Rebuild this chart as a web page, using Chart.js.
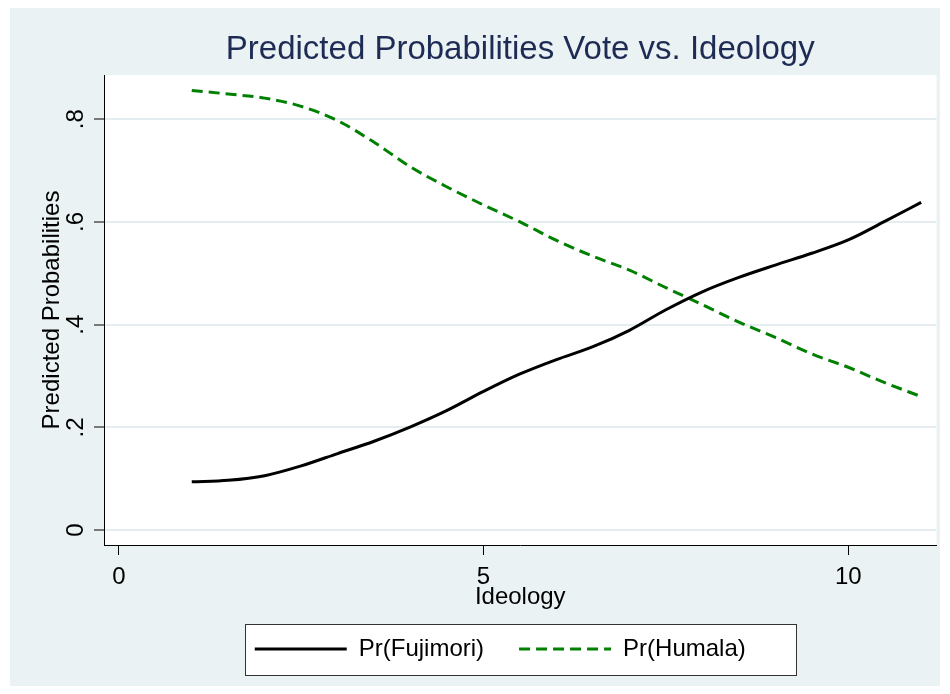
<!DOCTYPE html>
<html>
<head>
<meta charset="utf-8">
<script src="https://cdn.jsdelivr.net/npm/chart.js@4/dist/chart.umd.min.js"></script>
<style>
  html, body { margin: 0; padding: 0; background: #ffffff; }
</style>
</head>
<body>
<canvas id="grafica" width="950" height="694"></canvas>
<script>
// valores (ideologia cada 0.5)
const ideologia = [1, 1.5, 2, 2.5, 3, 3.5, 4, 4.5, 5, 5.5, 6, 6.5, 7, 7.5, 8, 8.5, 9, 9.5, 10, 10.5, 11];
const prFujimori = [0.094, 0.097, 0.106, 0.125, 0.149, 0.173, 0.201, 0.233, 0.270, 0.304, 0.332,
                    0.357, 0.389, 0.429, 0.464, 0.492, 0.516, 0.539, 0.565, 0.601, 0.638];
const prHumala = [0.856, 0.849, 0.841, 0.825, 0.797, 0.755, 0.707, 0.668, 0.633, 0.600, 0.564,
                  0.533, 0.506, 0.472, 0.439, 0.405, 0.375, 0.343, 0.317, 0.287, 0.260];
const ticksX = [0, 5, 10];
const ticksY = [0, 0.2, 0.4, 0.6, 0.8];
const etiquetasY = ['0', '.2', '.4', '.6', '.8'];

const fuente = "'Liberation Sans', Arial, sans-serif";
Chart.defaults.font.family = fuente;
Chart.defaults.color = '#000000';

// fondo gris azulado, area del grafico blanca y marco de la leyenda
const fondo = {
    id: 'fondo',
    afterLayout(chart) {
        const lg = chart.legend;
        const a = chart.chartArea;
        const h = lg.bottom - lg.top;
        lg.left -= 20; lg.right -= 20;
        lg.top = a.bottom + 57; lg.bottom = lg.top + h;
    },
    beforeDraw(chart) {
        const ctx = chart.ctx, a = chart.chartArea, lg = chart.legend;
        ctx.save();
        ctx.fillStyle = '#ffffff';
        ctx.fillRect(0, 0, chart.width, chart.height);
        ctx.fillStyle = '#eaf2f3';
        ctx.fillRect(10, 8, chart.width - 20, chart.height - 16);
        ctx.fillStyle = '#ffffff';
        ctx.fillRect(a.left, a.top, a.right - a.left, a.bottom - a.top);

        const pad = lg.options.labels.padding;
        const anchoItems = lg.lineWidths[0] - pad;
        const centro = (a.left + a.right) / 2;
        const yItem = lg.top + pad + 12;
        const x0 = Math.round(centro - anchoItems / 2 - 30) + 0.5;
        const x1 = Math.round(centro + anchoItems / 2 + 30) + 0.5;
        const y0 = Math.round(yItem - 25) + 0.5;
        const y1 = Math.round(yItem + 26) + 0.5;
        ctx.fillStyle = '#ffffff';
        ctx.fillRect(x0, y0, x1 - x0, y1 - y0);
        ctx.strokeStyle = '#333333';
        ctx.lineWidth = 1;
        ctx.strokeRect(x0, y0, x1 - x0, y1 - y0);
        ctx.restore();
    }
};

const ctx = document.getElementById('grafica').getContext('2d');
new Chart(ctx, {
    type: 'line',
    data: {
        datasets: [{
            label: 'Pr(Fujimori)',
            data: ideologia.map((x, i) => ({ x: x, y: prFujimori[i] })),
            borderColor: '#000000',
            borderWidth: 3,
            pointRadius: 0,
            cubicInterpolationMode: 'monotone',
            fill: false
        }, {
            label: 'Pr(Humala)',
            data: ideologia.map((x, i) => ({ x: x, y: prHumala[i] })),
            borderColor: '#008000',
            borderWidth: 3,
            borderDash: [11, 6],
            pointRadius: 0,
            cubicInterpolationMode: 'monotone',
            fill: false
        }]
    },
    options: {
        responsive: false,
        animation: false,
        devicePixelRatio: 1,
        events: [],
        layout: { padding: { top: 10, left: 14, right: 13.5, bottom: 10 } },
        scales: {
            x: {
                type: 'linear',
                min: -0.203,
                max: 11.21,
                afterBuildTicks: (scale) => { scale.ticks = ticksX.map(v => ({ value: v })); },
                afterFit: (scale) => { scale.height = 70; },
                ticks: {
                    autoSkip: false,
                    padding: 8,
                    font: { size: 24 },
                    color: '#000000'
                },
                grid: {
                    drawOnChartArea: false,
                    tickLength: 10,
                    tickColor: '#000000',
                    tickWidth: 1
                },
                border: { color: '#000000', width: 1 },
                title: {
                    display: true,
                    text: 'Ideology',
                    font: { size: 24 },
                    color: '#000000',
                    padding: { top: 0, bottom: 3 }
                }
            },
            y: {
                min: -0.029,
                max: 0.886,
                afterBuildTicks: (scale) => { scale.ticks = ticksY.map(v => ({ value: v })); },
                afterFit: (scale) => { scale.width = 90; },
                ticks: {
                    autoSkip: false,
                    minRotation: 90,
                    maxRotation: 90,
                    crossAlign: 'center',
                    padding: 8,
                    font: { size: 24 },
                    color: '#000000',
                    callback: (v) => etiquetasY[ticksY.indexOf(v)]
                },
                grid: {
                    color: '#e4edf0',
                    lineWidth: 2,
                    tickLength: 10,
                    tickColor: '#000000',
                    tickWidth: 1
                },
                border: { color: '#000000', width: 1 },
                title: {
                    display: true,
                    text: 'Predicted Probabilities',
                    font: { size: 24 },
                    color: '#000000',
                    padding: { top: 24, bottom: 0 }
                }
            }
        },
        plugins: {
            title: {
                display: true,
                text: 'Predicted Probabilities Vote vs. Ideology',
                fullSize: false,
                color: '#1e2c55',
                font: { size: 33, weight: 'normal' },
                padding: { top: 20.2, bottom: 5.2 }
            },
            legend: {
                position: 'bottom',
                fullSize: false,
                labels: {
                    usePointStyle: true,
                    pointStyle: 'line',
                    pointStyleWidth: 92,
                    padding: 35,
                    color: '#000000',
                    font: { size: 24 },
                    generateLabels(chart) {
                        const items = Chart.defaults.plugins.legend.labels.generateLabels(chart);
                        items.forEach(it => {
                            const ds = chart.data.datasets[it.datasetIndex];
                            it.lineWidth = ds.borderWidth;
                            it.lineDash = ds.borderDash || [];
                            it.strokeStyle = ds.borderColor;
                            it.pointStyle = 'line';
                        });
                        return items;
                    }
                }
            },
            tooltip: { enabled: false }
        }
    },
    plugins: [fondo]
});
</script>
</body>
</html>
